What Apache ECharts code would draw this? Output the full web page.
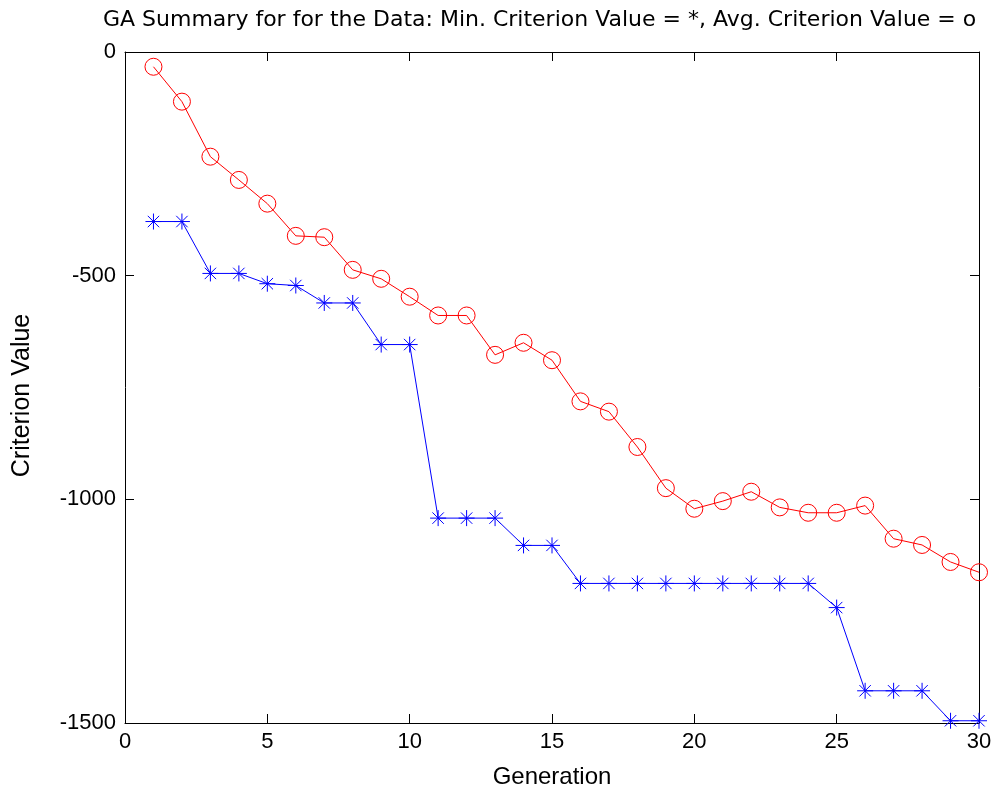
<!DOCTYPE html>
<html>
<head>
    <meta charset="utf-8">
    <title>GA Summary</title>
    <script src="https://cdn.jsdelivr.net/npm/echarts@6/dist/echarts.min.js"></script>
    <style>
        html, body { margin: 0; padding: 0; background: #fff; }
    </style>
</head>
<body>
<div id="main" style="width: 1008px;height:798px;"></div>
<script>
    // generations 1..30
    const generations = [1, 2, 3, 4, 5, 6, 7, 8, 9, 10, 11, 12, 13, 14, 15,
        16, 17, 18, 19, 20, 21, 22, 23, 24, 25, 26, 27, 28, 29, 30];
    // min criterion value per generation (*)
    const minValues = [-379, -379, -495, -495, -518, -522, -561, -561, -654, -654,
        -1042, -1042, -1042, -1103, -1103, -1188, -1188, -1188, -1188, -1188,
        -1188, -1188, -1188, -1188, -1242, -1428, -1428, -1428, -1495, -1495];
    // average criterion value per generation (o)
    const avgValues = [-33, -111, -234, -286, -339, -411, -414, -487, -507, -547,
        -589, -589, -677, -650, -689, -781, -804, -883, -975, -1021,
        -1004, -983, -1018, -1030, -1030, -1014, -1088, -1102, -1140, -1163];
    const xTicks = { min: 0, max: 30, step: 5 };
    const yTicks = { min: -1500, max: 0, step: 500 };

    const font = 'Liberation Sans, Arial, sans-serif';
    const pair = (vals) => generations.map((g, i) => [g, vals[i]]);
    const asterisk = 'path://M8,0L8,16M0,8L16,8M2.3,2.3L13.7,13.7M2.3,13.7L13.7,2.3';

    const axisCommon = {
        type: 'value',
        axisLine: { show: true, onZero: false, lineStyle: { color: '#000', width: 1 } },
        axisTick: { show: true, inside: true, length: 9, lineStyle: { color: '#000' } },
        splitLine: { show: false }
    };

    var myChart = echarts.init(document.getElementById('main'));
    var option = {
        animation: false,
        backgroundColor: '#fff',
        title: {
            text: 'GA Summary for for the Data: Min. Criterion Value = *, Avg. Criterion Value = o',
            left: 103,
            top: 9,
            padding: 0,
            textStyle: { fontFamily: 'DejaVu Sans', fontSize: 22, fontWeight: 'normal', color: '#000' }
        },
        grid: { left: 125, right: 29, top: 52, bottom: 75 },
        xAxis: [
            Object.assign({}, axisCommon, {
                position: 'bottom',
                min: xTicks.min, max: xTicks.max, interval: xTicks.step,
                name: 'Generation',
                nameLocation: 'middle',
                nameGap: 42,
                nameTextStyle: { fontFamily: font, fontSize: 24, color: '#000' },
                axisLabel: { margin: 8, fontFamily: font, fontSize: 22, color: '#000' }
            }),
            Object.assign({}, axisCommon, {
                position: 'top',
                min: xTicks.min, max: xTicks.max, interval: xTicks.step,
                axisLabel: { show: false }
            })
        ],
        yAxis: [
            Object.assign({}, axisCommon, {
                position: 'left',
                min: yTicks.min, max: yTicks.max, interval: yTicks.step,
                name: 'Criterion Value',
                nameLocation: 'middle',
                nameGap: 90,
                nameTextStyle: { fontFamily: font, fontSize: 25, color: '#000', padding: [0, 16, 0, 0] },
                axisLabel: {
                    margin: 9, fontFamily: font, fontSize: 22, color: '#000',
                    formatter: (v) => String(v)
                }
            }),
            Object.assign({}, axisCommon, {
                position: 'right',
                min: yTicks.min, max: yTicks.max, interval: yTicks.step,
                axisLabel: { show: false }
            })
        ],
        series: [
            {
                name: 'Min',
                type: 'line',
                data: pair(minValues),
                symbol: asterisk,
                symbolSize: 16,
                showAllSymbol: true,
                lineStyle: { color: '#0000ff', width: 1 },
                itemStyle: { color: 'none', borderColor: '#0000ff', borderWidth: 1 }
            },
            {
                name: 'Avg',
                type: 'line',
                data: pair(avgValues),
                symbol: 'circle',
                symbolSize: 17,
                showAllSymbol: true,
                lineStyle: { color: '#ff0000', width: 1 },
                itemStyle: { color: 'none', borderColor: '#ff0000', borderWidth: 1 }
            }
        ]
    };
    myChart.setOption(option);
</script>
</body>
</html>
